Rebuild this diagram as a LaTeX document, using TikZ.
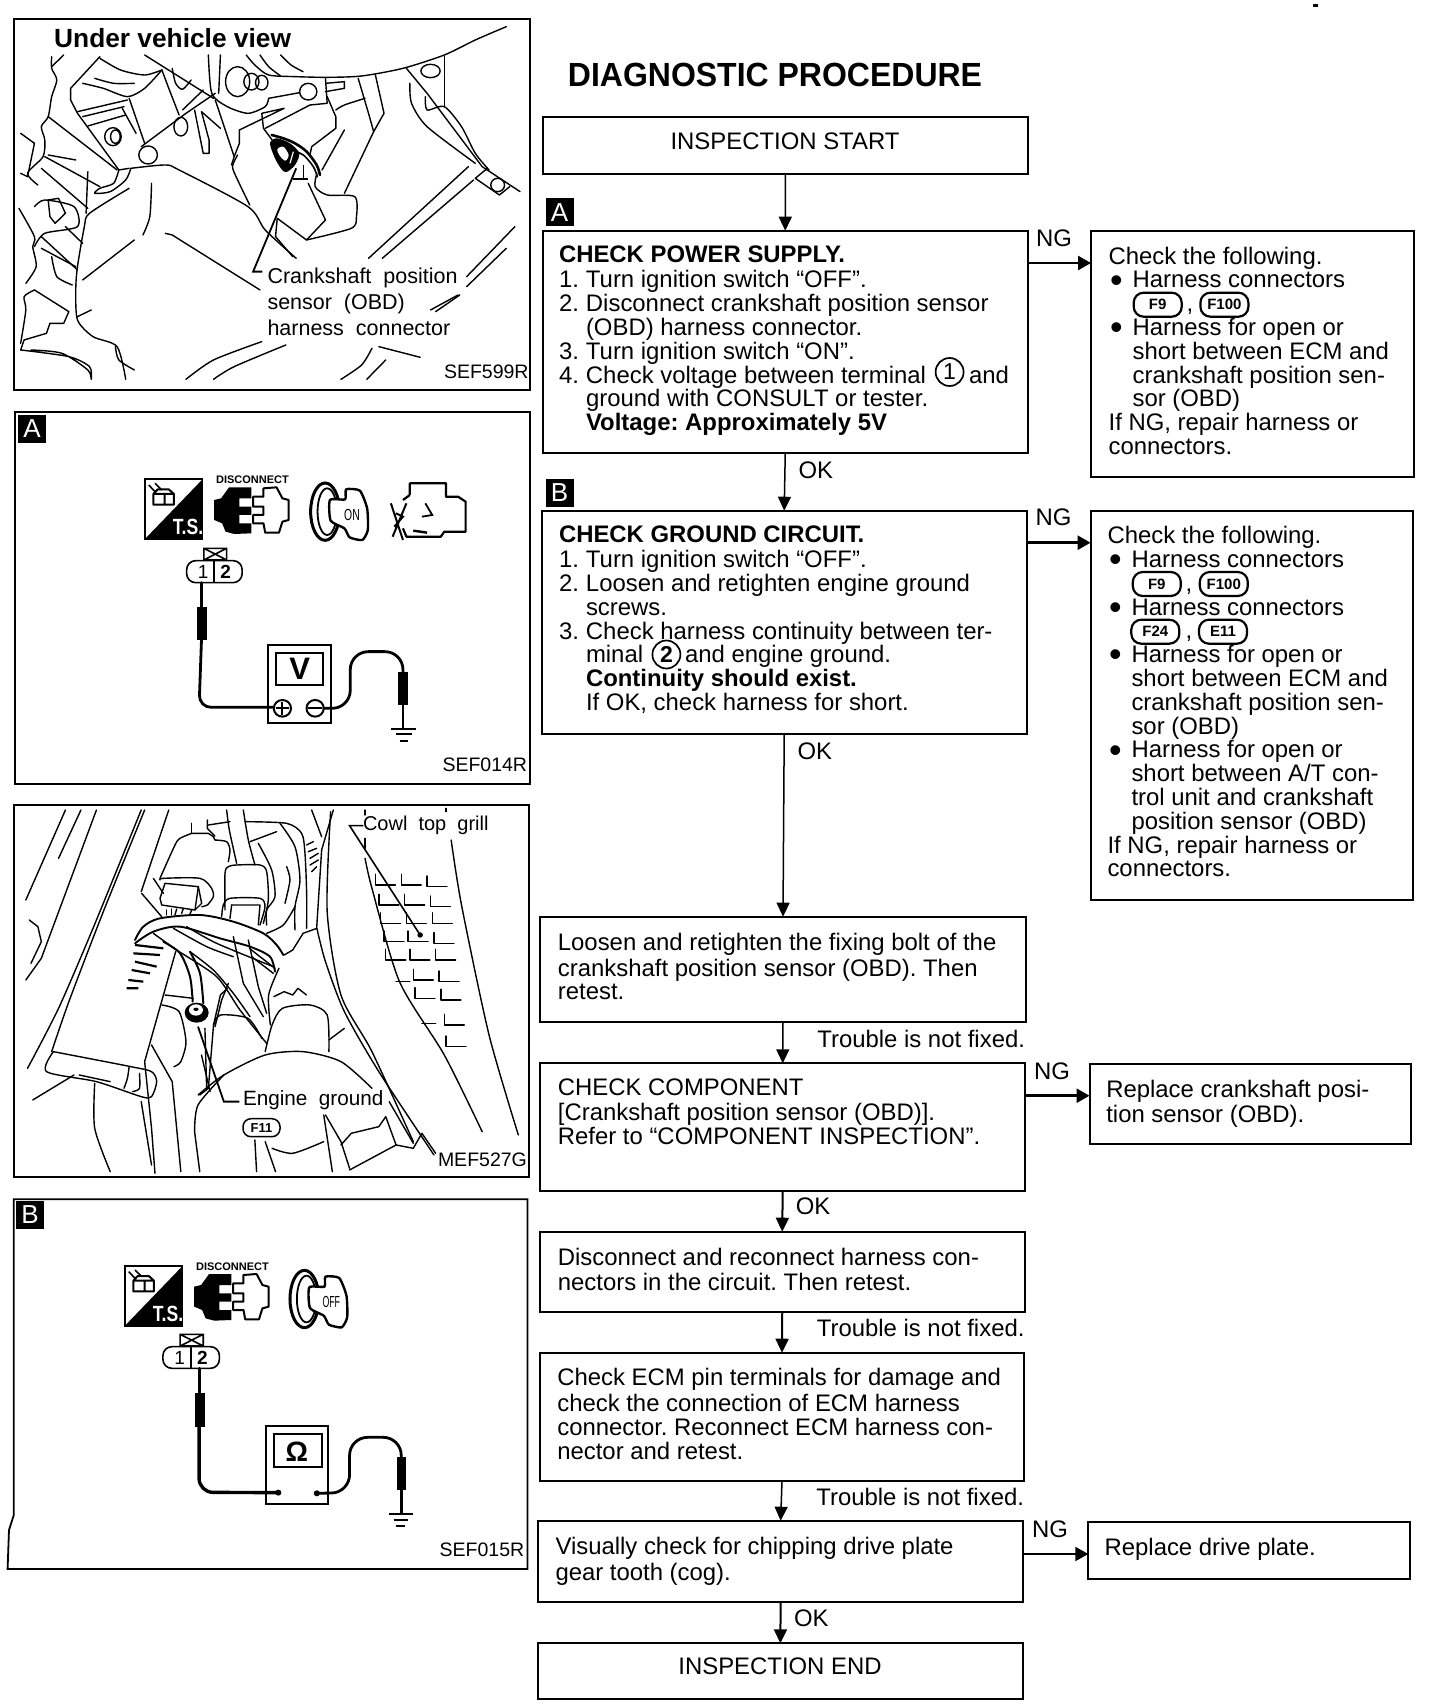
\documentclass[tikz,border=0pt]{standalone}
\usepackage{fontspec}
\usepackage{graphicx}
\setmainfont{Liberation Sans}
\usetikzlibrary{arrows.meta,calc}
\newcommand\bodyfont{\fontsize{23.9}{23.8}\selectfont\frenchspacing}
\tikzset{
  fbox/.style={draw,line width=2pt,inner sep=0pt,outer sep=0pt,fill=white},
  panel/.style={draw,line width=1.8pt,inner sep=0pt,outer sep=0pt},
  ftxt/.style={anchor=north west,inner sep=0pt,outer sep=0pt,align=left,yshift=8.66pt,font=\bodyfont},
  lbl/.style={inner sep=0pt,outer sep=0pt,font=\bodyfont},
  wlbl/.style={lbl,anchor=west},
  arr/.style={line width=1.5pt,-{Triangle[length=14pt,width=13pt]}},
  sidearr/.style={line width=2.6pt,-{Triangle[length=13pt,width=14pt]}},
  tagbox/.style={draw,line width=2.2pt,rounded corners=10pt,inner sep=0pt,outer sep=0pt,minimum width=48pt,minimum height=24pt,font=\fontsize{15}{15}\bfseries\selectfont},
  circnum/.style={draw,circle,line width=1.7pt,inner sep=0pt,minimum size=28pt,font=\fontsize{23}{23}\selectfont},
  letterbox/.style={fill=black,text=white,inner sep=0pt,outer sep=0pt,minimum width=28pt,minimum height=28pt,font=\fontsize{26}{26}\selectfont},
  plbl/.style={inner sep=0pt,outer sep=0pt,anchor=west,font=\fontsize{19.5}{20}\selectfont},
  art/.style={line width=1.4pt,line join=round,line cap=round},
  wire/.style={line width=2.8pt,line join=round,line cap=round},
}
\newcommand\boxat[5]{\pgfmathsetmacro\myw{#4-#2}\pgfmathsetmacro\myh{#5-#3}%
  \node[fbox,minimum width=\myw pt,minimum height=\myh pt] (#1) at ({(#2+#4)/2},{(#3+#5)/2}) {};}
\newcommand\acurve[1]{\draw[art] plot[smooth,tension=.45] coordinates {#1};}
\newcommand\aline[1]{\draw[art] plot coordinates {#1};}
\newcommand\nit[2]{\makebox[27pt][l]{#1}#2}
\newcommand\bul[1]{\makebox[24pt][l]{\hspace{1.5pt}\raisebox{-4.3pt}[0pt][0pt]{\scalebox{1.5}{•}}}#1}
\newcommand\ind[1]{\makebox[24pt][l]{}#1}
% icons, written in the coordinates of panel A
\newcommand\tsicon{%
  \draw[line width=1.8pt,fill=white] (420,238) rectangle (588,418);
  \fill (420,418) -- (588,238) -- (588,418) -- cycle;
  \node[text=white,inner sep=0pt,font=\fontsize{22}{22}\bfseries\selectfont] at (546,382) {\scalebox{.8}[1]{T.S.}};
  \draw[line width=2pt,line join=round] (445,282) rectangle (505,314) (478,282) -- (478,314) (445,282) -- (458,268) -- (490,268) -- (505,282);
  \draw[line width=1.6pt] (432,255) -- (450,275) (450,250) -- (470,270);
  \node[inner sep=0pt,font=\fontsize{11}{11}\bfseries\selectfont] at (733,240) {DISCONNECT};
  \fill (730,262) -- (665,262) -- (642,295) -- (622,300) -- (622,360) -- (645,370) -- (655,395) -- (680,402) -- (730,400) -- (730,370) -- (695,370) -- (695,345) -- (730,345) -- (730,320) -- (695,320) -- (695,295) -- (730,295) -- cycle;
  \draw[line width=2pt,line join=round] (765,290) -- (735,290) -- (735,320) -- (765,320) -- (765,345) -- (735,345) -- (735,370) -- (765,370) -- (770,398) -- (810,398) -- (820,365) -- (838,360) -- (838,300) -- (820,295) -- (803,262) -- (765,265) -- cycle;
}
\newcommand\keyicon[1]{%
  \draw[line width=3pt] (944,335) ellipse [x radius=42,y radius=86];
  \draw[line width=1.8pt] (950,335) ellipse [x radius=28,y radius=70];
  \draw[line width=2.4pt,line join=round,fill=white] plot[smooth cycle,tension=.35] coordinates {(1005,268) (1045,272) (1066,325) (1068,390) (1052,420) (1015,412) (1000,385) (960,362) (958,300) (1002,298)};
  \node[inner sep=0pt,font=\fontsize{16}{16}\selectfont] at (1022,345) {#1};
}
\begin{document}
\begin{tikzpicture}[x=1pt,y=-1pt]
\useasboundingbox (0,0) rectangle (1440,1708);
\fill[white] (0,0) rectangle (1440,1708);
\fill[black] (1313,4) rectangle (1318,7);

% ===== flow chart =====
\node[inner sep=0pt,font=\fontsize{33.5}{34}\bfseries\selectfont] (title) at (775,75) {\scalebox{.955}[1]{DIAGNOSTIC PROCEDURE}};
\boxat{start}{542.8}{116.7}{1028}{174}
\node[lbl] (startT) at (785,141) {INSPECTION START};
\node[letterbox] (lA) at (559.6,212.4) {A};
\boxat{power}{543}{230.7}{1027.5}{453}
\node[ftxt] (powerT) at (559,254.5) {\strut\textbf{CHECK POWER SUPPLY.}\\
\nit{1.}{Turn ignition switch “OFF”.}\\
\nit{2.}{Disconnect crankshaft position sensor}\\
\nit{}{(OBD) harness connector.}\\
\nit{3.}{Turn ignition switch “ON”.}\\
\nit{4.}{Check voltage between terminal\hspace{43pt}and}\\
\nit{}{ground with CONSULT or tester.}\\
\nit{}{\textbf{Voltage: Approximately 5V}}};
\node[circnum] (c1) at (949.6,372) {1};
\boxat{ngA}{1091}{230.7}{1414}{477}
\node[ftxt] (ngAT) at (1108.6,255.5) {\strut Check the following.\\
\bul{Harness connectors}\\
\ind{\hspace{54pt},}\\
\bul{Harness for open or}\\
\ind{short between ECM and}\\
\ind{crankshaft position sen-}\\
\ind{sor (OBD)}\\
If NG, repair harness or\\
connectors.};
\node[tagbox] (tA1) at (1157.7,304.7) {F9};
\node[tagbox] (tA2) at (1224.4,304.7) {F100};
\node[lbl] (ngl1) at (1054,238) {NG};
\draw[sidearr] ([yshift=-32.3pt]power.north east) -- ([yshift=-32.3pt]ngA.north west);
\draw[arr] (start.south) -- (power.north);
\node[wlbl] (ok1) at (798.5,470) {OK};

\node[letterbox] (lB) at (559.6,492.5) {B};
\boxat{ground}{541.6}{510.7}{1026.8}{734.3}
\node[ftxt] (groundT) at (559,534.3) {\strut\textbf{CHECK GROUND CIRCUIT.}\\
\nit{1.}{Turn ignition switch “OFF”.}\\
\nit{2.}{Loosen and retighten engine ground}\\
\nit{}{screws.}\\
\nit{3.}{Check harness continuity between ter-}\\
\nit{}{minal\hspace{42pt}and engine ground.}\\
\nit{}{\textbf{Continuity should exist.}}\\
\nit{}{If OK, check harness for short.}};
\node[circnum,font=\fontsize{23}{23}\bfseries\selectfont] (c2) at (666.4,654.5) {2};
\boxat{ngB}{1090.6}{510.7}{1412.8}{900}
\node[ftxt] (ngBT) at (1107.5,535) {\strut Check the following.\\
\bul{Harness connectors}\\
\ind{\hspace{54pt},}\\
\bul{Harness connectors}\\
\ind{\hspace{54pt},}\\
\bul{Harness for open or}\\
\ind{short between ECM and}\\
\ind{crankshaft position sen-}\\
\ind{sor (OBD)}\\
\bul{Harness for open or}\\
\ind{short between A/T con-}\\
\ind{trol unit and crankshaft}\\
\ind{position sensor (OBD)}\\
If NG, repair harness or\\
connectors.};
\node[tagbox] (tB1) at (1156.8,584) {F9};
\node[tagbox] (tB2) at (1223.8,584) {F100};
\node[tagbox] (tB3) at (1155.3,631.7) {F24};
\node[tagbox] (tB4) at (1223,631.7) {E11};
\node[lbl] (ngl2) at (1053.5,517.7) {NG};
\draw[sidearr] ([yshift=-32pt]ground.north east) -- ([yshift=-32pt]ngB.north west);
\draw[arr] (power.south) -- (ground.north);
\node[wlbl] (ok2) at (797.5,751) {OK};

\boxat{loosen}{540.4}{916.7}{1025.6}{1021.7}
\node[ftxt] (loosenT) at (557.9,942) {\strut Loosen and retighten the fixing bolt of the\\crankshaft position sensor (OBD). Then\\retest.};
\draw[arr] (ground.south) -- (loosen.north);
\boxat{comp}{540.4}{1063.3}{1025}{1190.7}
\node[ftxt] (compT) at (557.9,1087.3) {\strut CHECK COMPONENT\\{[}Crankshaft position sensor (OBD)].\\Refer to “COMPONENT INSPECTION”.};
\draw[arr] (loosen.south) -- (comp.north);
\node[lbl,anchor=east] (tr1) at (1025,1039) {Trouble is not fixed.};
\boxat{ngC}{1089.5}{1064.3}{1411}{1144.3}
\node[ftxt] (ngCT) at (1106.3,1088.7) {\strut Replace crankshaft posi-\\tion sensor (OBD).};
\node[lbl] (ngl3) at (1052,1071.7) {NG};
\draw[sidearr] ([yshift=-32.4pt]comp.north east) -- ([yshift=-31.4pt]ngC.north west);
\boxat{reconn}{540}{1231.7}{1024.5}{1312.3}
\node[ftxt] (reconnT) at (557.9,1256.8) {\strut Disconnect and reconnect harness con-\\nectors in the circuit. Then retest.};
\draw[arr,line width=2pt] (comp.south) -- (reconn.north);
\node[wlbl] (ok3) at (795.8,1206.7) {OK};
\boxat{ecm}{540}{1352.7}{1024}{1480.7}
\node[ftxt] (ecmT) at (557.3,1377.3) {\strut Check ECM pin terminals for damage and\\check the connection of ECM harness\\connector. Reconnect ECM harness con-\\nector and retest.};
\draw[arr,line width=2pt] (reconn.south) -- (ecm.north);
\node[lbl,anchor=east] (tr2) at (1024.5,1328) {Trouble is not fixed.};
\boxat{visual}{538}{1520.7}{1023.3}{1601.7}
\node[ftxt] (visualT) at (555.5,1546) {\strut Visually check for chipping drive plate\\gear tooth (cog).};
\draw[arr] (ecm.south) -- (visual.north);
\node[lbl,anchor=east] (tr3) at (1024,1497) {Trouble is not fixed.};
\boxat{ngD}{1088.3}{1521.7}{1409.8}{1578.7}
\node[ftxt] (ngDT) at (1104.6,1547) {\strut Replace drive plate.};
\node[lbl] (ngl4) at (1050,1529) {NG};
\draw[sidearr,line width=2pt] ([yshift=-33.3pt]visual.north east) -- ([yshift=-32.3pt]ngD.north west);
\boxat{endb}{538}{1643.3}{1022.7}{1699.3}
\node[lbl] (endT) at (780,1666.7) {INSPECTION END};
\draw[arr,line width=2pt] (visual.south) -- (endb.north);
\node[wlbl] (ok4) at (794,1618) {OK};

% ===== panel 1 =====
\node[panel,minimum width=516.5pt,minimum height=371pt] (p1) at (272,204.5) {};
\node[inner sep=0pt,anchor=west,font=\fontsize{26.3}{26}\bfseries\selectfont] (p1h) at (54,38.3) {Under vehicle view};
\node[plbl,anchor=north west,align=left,font=\fontsize{21.5}{26}\selectfont,yshift=9.5pt] (p1l) at (267.5,275) {\strut Crankshaft\ \ position\\sensor\ \ (OBD)\\harness\ \ connector};
\node[plbl] (p1c) at (444,371.7) {SEF599R};
\begin{scope}[x=0.3444pt,y=-0.3333pt]
\acurve{(1470,80)(1380,120)(1290,165)(1170,205)(1050,228)(950,232)(860,230)(780,225)(740,195)(715,165)}
\acurve{(755,165)(780,200)(815,228)}
\acurve{(815,165)(845,195)(880,215)}
\aline{(185,165)(150,200)}
\acurve{(150,170)(150,205)(165,240)(150,290)(140,350)(120,380)(130,420)(125,470)(80,520)(110,555)}
\aline{(290,170)(205,265)(205,300)(225,340)(345,510)(375,505)}
\acurve{(345,510)(330,550)(290,565)(275,580)(320,575)(365,540)(380,505)}
\acurve{(240,250)(300,265)(370,290)(420,265)(470,210)}
\acurve{(275,235)(330,250)(390,250)}
\acurve{(290,175)(350,210)(420,225)(470,210)}
\aline{(420,165)(620,295)}
\aline{(225,335)(370,300)}
\aline{(240,350)(360,320)}
\aline{(255,378)(365,345)}
\aline{(375,295)(420,430)}
\aline{(355,325)(395,400)}
\draw[art] (328,410) ellipse [x radius=24,y radius=27] (335,410) ellipse [x radius=14,y radius=20];
\draw[art] (430,465) ellipse [x radius=27,y radius=27];
\draw[art] (525,380) ellipse [x radius=20,y radius=28];
\aline{(410,440)(540,340)(625,280)}
\acurve{(380,505)(480,495)(520,510)(720,620)(770,690)(860,775)}
\acurve{(725,615)(690,540)(675,500)(690,465)}
\aline{(470,210)(490,265)(520,345)}
\acurve{(500,205)(510,250)(530,268)(555,240)}
\aline{(530,330)(590,270)}
\aline{(565,330)(590,460)(607,460)(607,420)(585,335)(640,385)}
\aline{(625,300)(680,470)(672,495)}
\acurve{(605,165)(615,280)(660,320)(720,340)(770,320)(780,295)}
\aline{(640,165)(635,280)}
\draw[art] (690,245) ellipse [x radius=35,y radius=45] (730,245) ellipse [x radius=22,y radius=25] (760,248) ellipse [x radius=18,y radius=22];
\aline{(780,295)(870,278)}
\draw[art] (895,275) ellipse [x radius=25,y radius=25];
\aline{(945,235)(950,310)(900,315)(770,385)}
\aline{(695,390)(825,325)(760,340)(765,385)(790,420)}
\aline{(695,390)(695,430)(680,470)}
\aline{(945,250)(1000,245)(1000,265)(945,275)}
\aline{(950,290)(975,350)(975,385)(905,440)(900,465)}
\acurve{(975,330)(1000,315)(1060,295)}
\aline{(1040,235)(1070,340)(1085,395)(1115,340)(1090,225)}
\aline{(1085,395)(1000,580)}
\draw[line width=1.8pt] (860,505) -- (735,815) -- (762,815);
\aline{(895,550)(945,660)(890,720)(805,655)(800,710)(850,770)}
\acurve{(920,520)(915,560)(950,585)(1030,590)(1035,650)(1020,685)(890,720)}
\aline{(935,510)(1000,390)}
\aline{(1180,205)(1240,280)(1400,500)(1510,575)}
\aline{(1290,165)(1290,320)}
\acurve{(1190,250)(1195,310)(1240,380)(1380,490)}
\acurve{(1235,290)(1240,330)(1290,320)(1340,380)(1380,460)(1420,510)}
\draw[art] (1250,213) ellipse [x radius=28,y radius=20];
\aline{(1415,505)(1380,535)(1450,585)(1480,560)}
\draw[art] (1445,555) ellipse [x radius=20,y radius=20];
\aline{(1360,500)(1070,775)}
\aline{(1375,540)(1110,775)}
\aline{(1495,680)(1355,830)}
\aline{(1470,745)(1355,860)}
\aline{(1330,885)(1250,930)}
\aline{(1335,885)(1265,935)}
\aline{(480,700)(500,705)(755,870)}
\acurve{(440,550)(435,650)(415,705)}
\aline{(390,720)(240,840)}
\acurve{(760,1025)(620,1080)(540,1138)}
\acurve{(830,1035)(680,1100)(620,1138)}
\acurve{(1080,1045)(1050,1095)(990,1138)}
\aline{(1120,1080)(1065,1138)}
\aline{(1100,1040)(1220,1072)}
\acurve{(375,565)(260,640)(245,680)(225,800)(220,870)(225,960)(270,1010)(340,1040)(365,1138)}
\acurve{(335,1040)(345,1080)(390,1110)}
\aline{(140,350)(340,510)}
\aline{(130,470)(290,560)}
\aline{(120,505)(255,625)}
\aline{(255,515)(250,640)}
\aline{(140,465)(220,480)}
\aline{(140,600)(170,595)(190,640)(160,670)(145,650)(140,600)}
\acurve{(100,620)(130,600)(215,620)(225,680)(130,700)(100,740)}
\aline{(120,710)(225,810)}
\aline{(190,680)(240,730)}
\aline{(120,745)(220,800)}
\acurve{(150,770)(165,830)(210,855)}
\acurve{(55,625)(100,710)(95,740)(105,800)(75,850)}
\acurve{(100,870)(70,890)(75,930)(60,1030)}
\aline{(100,870)(200,935)(185,970)(145,970)(135,1000)(70,1020)(60,1050)}
\acurve{(60,1050)(200,1070)(260,1100)(265,1138)(255,1110)(180,1060)(90,1050)}
\aline{(225,950)(265,930)}
\aline{(100,430)(60,400)}
\aline{(100,430)(80,530)(60,520)}
\end{scope}
% sensor connector, detail
\begin{scope}[x=0.3333pt,y=-0.3333pt,xshift=240pt,yshift=-110pt]
\draw[line width=2.6pt,line cap=round] plot[smooth,tension=.5] coordinates {(95,75)(130,85)(165,100)(200,125)(230,165)(240,195)};
\draw[line width=1.6pt,line cap=round] plot[smooth,tension=.5] coordinates {(150,118)(190,135)(220,170)(232,200)};
\fill plot[smooth cycle,tension=.5] coordinates {(90,100)(105,145)(125,178)(140,186)(165,165)(178,130)(150,100)(110,85)};
\fill[white] plot[smooth cycle,tension=.5] coordinates {(112,118)(130,110)(146,135)(136,152)(120,138)};
\draw[white,line width=1.2pt] (160,125) -- (150,160);
\draw[line width=2.4pt] (160,207) -- (205,207);
\draw[line width=1.4pt] (190,165) -- (190,207);
\end{scope}

% ===== panel A =====
\node[panel,minimum width=514.4pt,minimum height=372.3pt] (pA) at (272.4,597.8) {};
\node[letterbox] (pAl) at (32,429) {A};
\node[plbl] (pAc) at (442.5,765) {SEF014R};
\begin{scope}[x=0.3444pt,y=-0.3333pt,yshift=-400pt]
\tsicon
\keyicon{\scalebox{.65}[1]{ON}}
\draw[line width=2.2pt,line join=round] (1190,285) -- (1190,250) -- (1295,250) -- (1295,290) -- (1330,290) -- (1352,305) -- (1352,395) -- (1290,395) -- (1280,410) -- (1180,410) -- (1170,385) (1170,300) -- (1190,285);
\draw[line width=2pt] (1135,310) -- (1170,420) (1180,310) -- (1140,410) (1150,340) -- (1170,350) -- (1145,380);
\draw[line width=2.4pt] (1200,392) -- (1240,398);
\draw[line width=1.8pt] (1235,310) -- (1255,345) -- (1225,350);
\draw[line width=1.6pt] (592,445) rectangle (658,480) (592,445) -- (658,480) (592,480) -- (658,445);
\draw[line width=1.6pt,rounded corners=9pt] (542,482) rectangle (703,548);
\draw[line width=1.6pt] (622,482) -- (622,548);
\node[font=\fontsize{19}{19}\selectfont] at (590,515) {1};
\node[font=\fontsize{19}{19}\bfseries\selectfont] at (655,515) {2};
\draw[wire] (585,548) -- (585,620);
\fill (572,620) rectangle (600,720);
\draw[wire,rounded corners=12pt] (585,720) -- (578,922) -- (795,922);
\draw[line width=2.2pt] (778,735) rectangle (960,970);
\draw[line width=2.2pt] (802,760) rectangle (938,855);
\node[font=\fontsize{31}{31}\bfseries\selectfont] at (870,808) {V};
\draw[line width=2pt] (820,925) circle [x radius=25,y radius=25] (915,925) circle [x radius=25,y radius=25];
\draw[line width=2pt] (800,925) -- (840,925) (820,905) -- (820,945) (895,925) -- (935,925);
\draw[wire,rounded corners=18pt] (940,925) -- (1017,925) -- (1017,755) -- (1170,755) -- (1170,815);
\fill (1157,815) rectangle (1185,915);
\draw[wire] (1170,915) -- (1170,985);
\draw[line width=2pt] (1135,987) -- (1207,987) (1150,1003) -- (1195,1003) (1160,1023) -- (1185,1023);
\end{scope}

% ===== panel 3 =====
\node[panel,minimum width=514.8pt,minimum height=372pt] (p3) at (271.2,991) {};
\node[plbl,font=\fontsize{20}{20}\selectfont] (p3a) at (363,825.7) {Cowl\ \ top\ \ grill};
\node[plbl,font=\fontsize{20.7}{21}\selectfont] (p3b) at (243,1100) {Engine\ \ ground};
\node[tagbox,font=\fontsize{13}{13}\bfseries\selectfont,minimum width=37pt,minimum height=18pt,rounded corners=8pt,line width=1.5pt] (p3t) at (261.5,1127.7) {F11};
\node[plbl] (p3c) at (438,1159.3) {MEF527G};
\begin{scope}[x=0.3444pt,y=-0.3333pt,yshift=-795pt]
\aline{(190,45)(75,315)}
\aline{(235,45)(170,190)}
\aline{(280,45)(120,490)(75,555)}
\aline{(85,375)(110,395)(120,440)(90,505)}
\acurve{(410,45)(270,400)(170,640)(80,820)}
\acurve{(420,45)(300,350)(200,620)(150,770)}
\aline{(490,45)(410,290)}
\acurve{(155,770)(135,830)(280,860)(410,905)(440,905)(455,860)(440,830)(380,815)(155,770)}
\acurve{(375,815)(370,850)(360,880)}
\acurve{(405,835)(405,880)(385,890)}
\aline{(215,840)(95,915)}
\aline{(230,840)(320,860)}
\acurve{(275,865)(275,1000)(320,1130)}
\aline{(510,470)(420,800)(440,1000)(450,1135)}
\aline{(440,750)(500,860)(525,1130)}
\acurve{(470,630)(520,650)(540,740)(525,800)(505,815)}
\draw[line width=1.8pt] (575,695) -- (650,920) -- (695,920);
\aline{(595,700)(600,880)}
\aline{(585,780)(610,890)}
\aline{(410,920)(440,1110)}
\aline{(825,480)(850,465)(880,415)(920,400)}
\acurve{(920,400)(945,500)(1000,650)(1100,830)(1260,1080)}
\acurve{(960,50)(950,350)(990,600)(1080,770)(1200,1040)}
\acurve{(810,520)(780,600)(785,690)}
\aline{(795,605)(825,590)(850,600)(865,580)(890,600)}
\acurve{(770,770)(790,690)(820,640)(900,630)(950,660)(955,770)}
\aline{(955,735)(1000,700)}
\acurve{(575,900)(650,840)(770,780)(880,770)(990,800)(1080,880)}
\acurve{(565,1010)(575,930)(650,840)}
\aline{(565,1010)(580,1130)}
\acurve{(620,690)(640,660)(720,670)(760,730)}
\aline{(620,690)(605,880)(580,900)}
\aline{(660,580)(640,600)(620,690)}
\aline{(940,960)(965,1130)}
\aline{(945,960)(990,1040)(1015,1120)}
\aline{(990,1050)(1020,1015)(1100,995)(1120,965)(1150,1050)(1200,1060)(1225,1015)(1265,1075)}
\aline{(1015,1125)(1150,1050)}
\aline{(1130,920)(1200,1045)}
\acurve{(790,1060)(850,1075)(940,1040)}
\aline{(740,1035)(745,1130)}
\aline{(770,1040)(800,1130)}
\acurve{(1060,190)(1080,280)(1160,560)(1290,780)(1400,1010)}
\acurve{(1310,135)(1340,330)(1420,720)(1505,1020)}
\aline{(1060,45)(1060,60)}
\aline{(1295,40)(1295,50)}
\aline{(1060,130)(1060,160)}
\draw[line width=1.6pt] (1055,92) -- (1015,92) -- (1220,420);
\fill (1220,420) circle [x radius=8,y radius=8];
\foreach \xx/\yy in {1090/270,1100/330,1105/385,1115/440,1120/495,1165/270,1175/330,1180/385,1185/440,1190/495,1200/555,1205/610,1240/275,1250/335,1255/385,1260/445,1265/495,1275/560,1280/615,1290/690,1295/755}{
  \draw[art] (\xx,\yy-32) -- (\xx,\yy) -- (\xx+58,\yy);
}
\aline{(1150,560)(1190,560)}
\aline{(1225,685)(1265,685)}
\end{scope}
% connectors, harness and ground bolt, detail
\begin{scope}[x=0.3333pt,y=-0.3333pt,xshift=120pt,yshift=-810pt]
\aline{(215,40)(215,70)}
\acurve{(215,70)(180,85)(165,105)(120,205)}
\aline{(215,70)(265,70)(280,80)(285,90)}
\acurve{(285,90)(320,95)(330,120)(325,155)}
\aline{(262,30)(262,55)(285,78)}
\aline{(265,45)(330,35)}
\acurve{(120,210)(130,205)(240,205)(275,235)(280,260)(262,285)(245,290)}
\aline{(135,220)(235,230)(225,300)(125,285)(120,265)(135,220)}
\aline{(235,230)(245,280)(225,300)}
\aline{(140,300)(140,315)}
\aline{(155,297)(155,315)}
\aline{(170,297)(165,315)}
\aline{(190,295)(185,310)}
\aline{(215,300)(210,312)}
\aline{(100,205)(130,250)}
\aline{(65,250)(125,320)}
\acurve{(315,300)(315,190)(325,170)(350,165)(420,165)(440,185)(445,270)(430,340)}
\acurve{(305,320)(310,285)(330,265)(420,265)(435,290)(420,345)}
\aline{(335,285)(420,285)(415,345)}
\aline{(335,285)(330,325)}
\acurve{(320,0)(328,60)(350,160)}
\acurve{(370,0)(385,90)(405,165)}
\acurve{(375,35)(500,40)(545,70)(555,130)(560,250)(560,355)}
\acurve{(480,40)(525,110)(540,210)(525,290)(525,360)}
\aline{(390,95)(470,65)}
\acurve{(415,100)(455,180)(465,260)(440,300)(440,345)}
\acurve{(500,170)(510,210)(495,280)}
\draw[art] (560,105)--(580,95) (565,125)--(590,115) (570,145)--(595,130) (570,165)--(595,150) (575,185)--(590,170);
\aline{(575,0)(605,80)}
\aline{(640,0)(605,120)(590,355)}
\acurve{(525,290)(490,345)(440,370)}
\draw[line width=1.9pt,line cap=round] plot[smooth,tension=.5] coordinates {(45,390)(70,350)(120,325)(240,315)(340,335)(430,370)(470,405)(490,435)};
\draw[line width=1.9pt,line cap=round] plot[smooth,tension=.5] coordinates {(45,400)(100,365)(180,350)(300,385)(390,410)(450,440)(465,485)};
\acurve{(160,355)(260,410)(340,440)}
\acurve{(200,350)(290,400)(460,470)}
\acurve{(100,370)(170,420)(290,500)(360,600)(440,700)}
\acurve{(210,425)(280,480)(340,550)(390,620)}
\aline{(340,380)(370,520)(430,620)}
\aline{(385,390)(415,530)(440,610)}
\aline{(388,415)(465,475)}
\aline{(395,440)(460,490)}
\aline{(325,520)(305,570)(285,650)}
\draw[line width=2pt,line cap=round] plot[smooth,tension=.5] coordinates {(130,395)(180,430)(210,500)(218,575)};
\draw[line width=2pt,line cap=round] plot[smooth,tension=.5] coordinates {(210,425)(240,490)(250,580)};
\aline{(135,555)(220,565)}
\fill (230,608) ellipse [x radius=36,y radius=30];
\fill[white] (228,600) ellipse [x radius=21,y radius=17];
\fill (228,598) ellipse [x radius=8,y radius=5];
\draw[line width=2.2pt] (45,405)--(130,415) (40,430)--(120,435) (45,455)--(110,470) (35,480)--(90,490) (25,510)--(70,515) (20,535)--(55,535);
\end{scope}

% ===== panel B =====
\draw[line width=1.8pt] (13.8,1199.3) -- (527.5,1199.3) -- (527.5,1569) -- (7.6,1569) -- (9,1530) -- (13.8,1515) -- cycle;
\node[letterbox] (pBl) at (30,1215) {B};
\node[plbl] (pBc) at (439.7,1550) {SEF015R};
\begin{scope}[x=0.3444pt,y=-0.3333pt,yshift=-1190pt]
\begin{scope}[shift={(-58,-10)}]
\tsicon
\end{scope}
\begin{scope}[shift={(-60,-8)}]
\keyicon{\scalebox{.55}[1]{OFF}}
\end{scope}
\draw[line width=1.6pt] (523,433) rectangle (590,468) (523,433) -- (590,468) (523,468) -- (590,433);
\draw[line width=1.6pt,rounded corners=9pt] (473,470) rectangle (637,535);
\draw[line width=1.6pt] (555,470) -- (555,535);
\node[font=\fontsize{19}{19}\selectfont] at (522,505) {1};
\node[font=\fontsize{19}{19}\bfseries\selectfont] at (588,505) {2};
\draw[wire] (580,535) -- (580,610);
\fill (567,610) rectangle (595,710);
\draw[line width=3.4pt,line join=round,rounded corners=14pt] (578,710) -- (578,907) -- (808,908);
\fill (808,908) circle [x radius=9,y radius=9];
\draw[line width=2.2pt] (773,708) rectangle (952,942);
\draw[line width=2.2pt] (795,733) rectangle (935,830);
\node[font=\fontsize{28}{28}\bfseries\selectfont] at (862,785) {Ω};
\fill (920,910) circle [x radius=9,y radius=9];
\draw[wire,rounded corners=18pt] (920,910) -- (1015,908) -- (1015,742) -- (1165,742) -- (1165,800);
\fill (1153,800) rectangle (1180,900);
\draw[wire] (1165,900) -- (1165,970);
\draw[line width=2pt] (1130,972) -- (1200,972) (1143,990) -- (1185,990) (1150,1008) -- (1175,1008);
\end{scope}
\end{tikzpicture}
\end{document}
